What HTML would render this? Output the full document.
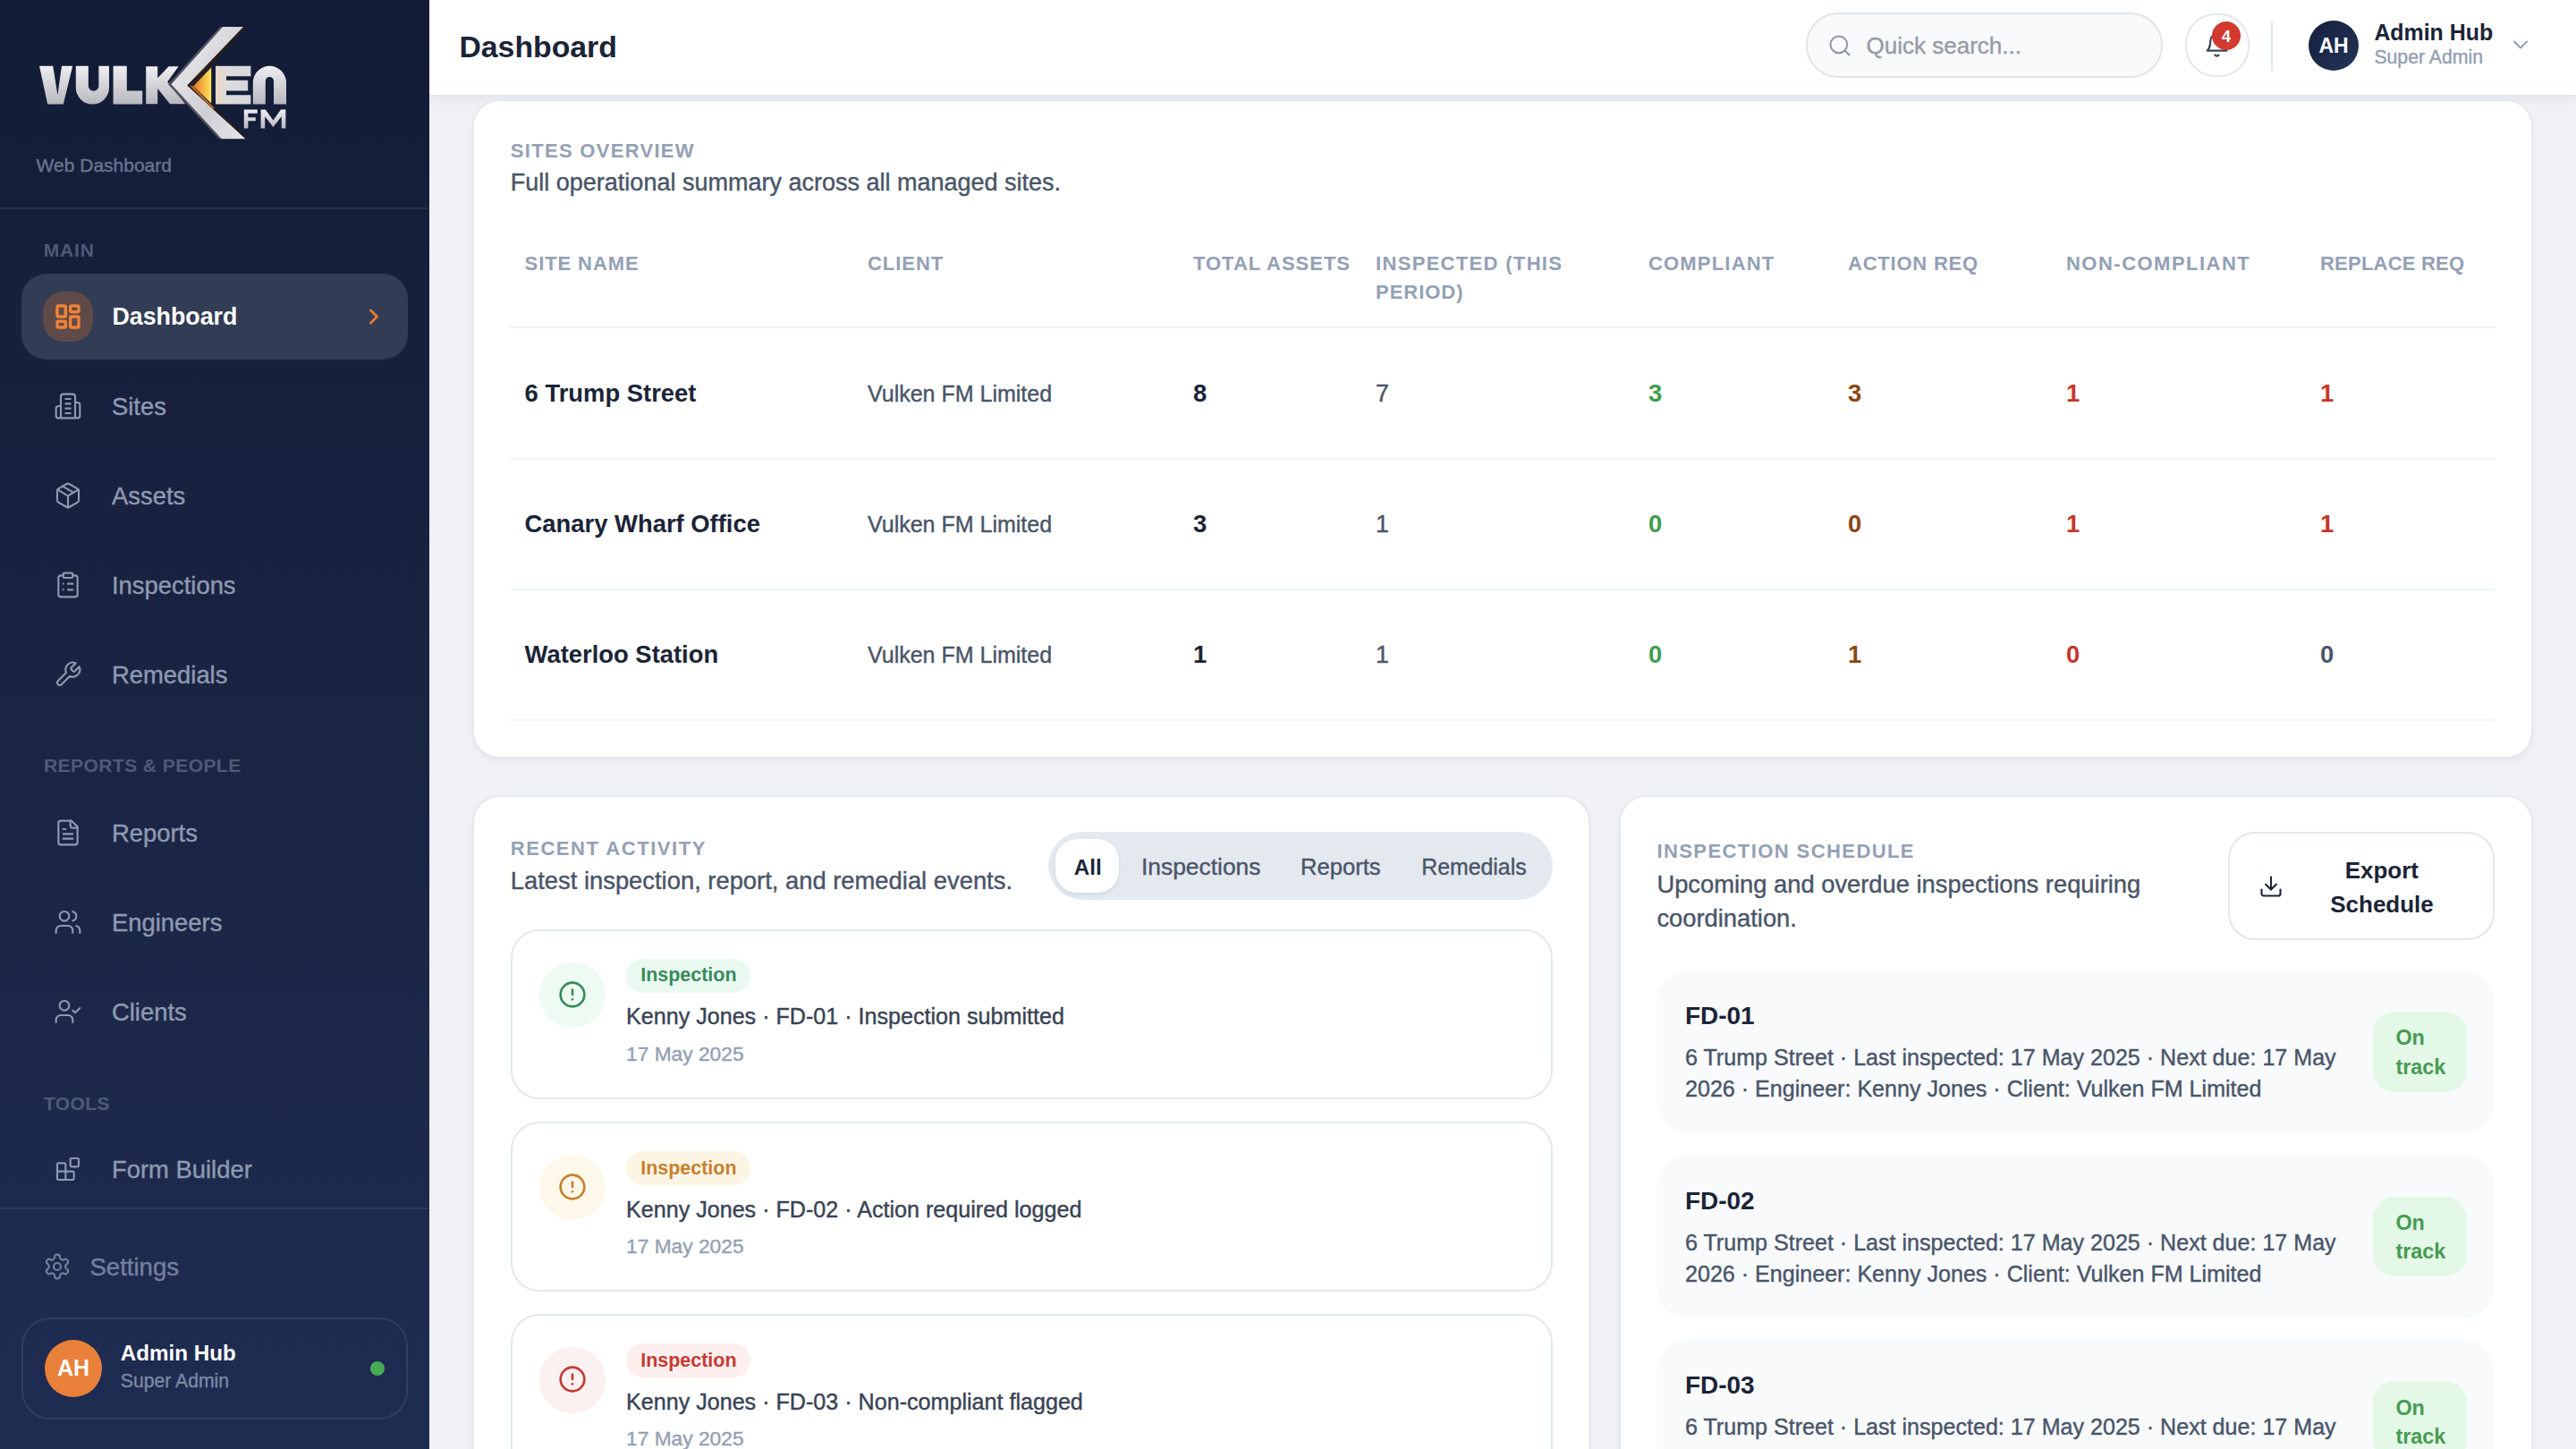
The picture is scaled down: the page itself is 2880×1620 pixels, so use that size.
<!DOCTYPE html>
<html><head><meta charset="utf-8"><title>Dashboard</title>
<style>
html{zoom:2}
@media (max-width:2000px){html{zoom:1}}
*{box-sizing:content-box}
body{margin:0;width:1440px;height:810px;overflow:hidden;position:relative;background:#eff1f5;font-family:"Liberation Sans",sans-serif;}
.t{position:absolute;white-space:nowrap}
.b{position:absolute}
.i{position:absolute;overflow:visible}
.sb{position:absolute;left:0;top:0;width:240px;height:810px;background:linear-gradient(180deg,#131c36 0%,#1a2443 50%,#1f2c52 100%);overflow:hidden}
.hd{position:absolute;left:240px;top:0;width:1200px;height:53px;background:#fff;box-shadow:0 1px 0 #e3e7ee,0 2px 6px rgba(15,23,42,0.06);z-index:0}
</style></head><body>
<div class="sb">
<svg class="i" style="left:0;top:0" width="240" height="100" viewBox="0 0 240 100">
<defs>
<linearGradient id="sv" x1="0" y1="0" x2="0" y2="1"><stop offset="0" stop-color="#efeff2"/><stop offset="0.55" stop-color="#d0d0d5"/><stop offset="1" stop-color="#b8b8bf"/></linearGradient>
<linearGradient id="sv2" x1="0" y1="0" x2="1" y2="1"><stop offset="0" stop-color="#f3f3f5"/><stop offset="0.6" stop-color="#cfcfd4"/><stop offset="1" stop-color="#e4e4e8"/></linearGradient>
<linearGradient id="gd" x1="0" y1="0" x2="1" y2="0"><stop offset="0" stop-color="#e9762a"/><stop offset="1" stop-color="#fde65a"/></linearGradient>
<linearGradient id="eg" x1="0" y1="0" x2="1" y2="0"><stop offset="0" stop-color="#e8d7c2"/><stop offset="0.35" stop-color="#dcdcdf"/><stop offset="1" stop-color="#d6d6db"/></linearGradient>
</defs>
<g fill="url(#sv)">
<path d="M22 36.9H29.6L32.2 53.1L34.5 36.9H40.6L35.4 58.3H26.6Z"/>
<path d="M42.4 36.9H49.4V48A2.9 2.9 0 0 0 55.2 48V36.9H61V49A9.3 9.3 0 0 1 42.4 49Z"/>
<path d="M63.3 36.9H70.9V50.8H79.6V58.3H63.3Z"/>
<path d="M81.6 37.1H88.1V43.6L94.3 37.1H99.8L93.6 45.7L103.6 58.1H95L88.1 49.5V58.1H81.6Z"/>
<path d="M141.4 58.3V46.2A9.3 9.3 0 0 1 160 46.2V58.3H153V45.3A2.3 2.3 0 0 0 148.4 45.3V58.3Z"/>
<path d="M136.4 61.3H143.9V63.4H138.7V65.6H142.9V67.6H138.7V71.7H136.4Z"/>
<path d="M145.8 71.7V61.3H148.4L152.7 67.2L157 61.3H159.7V71.7H157.4V65.1L152.7 71L148.1 65.1V71.7Z"/>
</g>
<path d="M120.5 36.9H140.2V42.6H126.5V44.9H138.6V50.8H126.5V53.1H140.2V58.3H120.5Z" fill="url(#eg)"/>
<path d="M94 47.1L123 15H124.5L95.7 47.1L123.9 77.6H122.4Z" fill="#50545f"/>
<path d="M95.7 47.1L124.5 15H136.1L104.7 47.8L137.3 77.6H123.9Z" fill="url(#sv2)"/>
<path d="M104.7 47.8L136.1 15L137.4 15.4L108 48.1L137.6 77.1L137.3 77.6Z" fill="#2a1f1d"/>
<path d="M106 47.9L108 48.1L120 60.5L118.5 60.5Z" fill="#d9792e" opacity="0.8"/>
<path d="M108.1 48.1L118.1 37.8V57.8Z" fill="url(#gd)"/>
</svg>
<div class="t" style="left:20.30px;top:86.91px;font-size:10.5px;line-height:10.5px;color:#68758f;-webkit-text-stroke-width:0.2px;">Web Dashboard</div>
<div class="b" style="left:0.00px;top:116.00px;width:240.00px;height:1.00px;background:rgba(148,163,184,0.14)"></div>
<div class="t" style="left:24.35px;top:134.61px;font-size:10.5px;line-height:10.5px;color:#4f5b77;font-weight:700;letter-spacing:0.42px;">MAIN</div>
<div class="b" style="left:12.00px;top:153.00px;width:216.00px;height:48.00px;background:#323c55;border-radius:14px"></div>
<div class="b" style="left:24.00px;top:163.00px;width:28.00px;height:28.00px;background:#5f4a48;border-radius:11.5px"></div>
<svg class="i" style="left:30.00px;top:169.00px;" width="16" height="16" viewBox="0 0 24 24" fill="none" stroke="#ee8236" stroke-width="2.6" stroke-linecap="round" stroke-linejoin="round"><rect width="7" height="9" x="3" y="3" rx="1"/><rect width="7" height="5" x="14" y="3" rx="1"/><rect width="7" height="9" x="14" y="12" rx="1"/><rect width="7" height="5" x="3" y="16" rx="1"/></svg>
<div class="t" style="left:62.70px;top:170.55px;font-size:13.4px;line-height:13.4px;color:#ffffff;font-weight:700;">Dashboard</div>
<svg class="i" style="left:202.00px;top:170.00px;" width="14" height="14" viewBox="0 0 24 24" fill="none" stroke="#e27b35" stroke-width="2.5" stroke-linecap="round" stroke-linejoin="round"><path d="m9 18 6-6-6-6"/></svg>
<svg class="i" style="left:30.00px;top:218.90px;" width="16" height="16" viewBox="0 0 24 24" fill="none" stroke="#8d99b0" stroke-width="1.6" stroke-linecap="round" stroke-linejoin="round"><path d="M6 22V4a2 2 0 0 1 2-2h8a2 2 0 0 1 2 2v18Z"/><path d="M6 12H4a2 2 0 0 0-2 2v6a2 2 0 0 0 2 2h2"/><path d="M18 9h2a2 2 0 0 1 2 2v9a2 2 0 0 1-2 2h-2"/><path d="M10 6h4"/><path d="M10 10h4"/><path d="M10 14h4"/><path d="M10 18h4"/></svg>
<div class="t" style="left:62.50px;top:220.50px;font-size:13.7px;line-height:13.7px;color:#8e9ab1;-webkit-text-stroke-width:0.2px;">Sites</div>
<svg class="i" style="left:30.00px;top:268.90px;" width="16" height="16" viewBox="0 0 24 24" fill="none" stroke="#8d99b0" stroke-width="1.6" stroke-linecap="round" stroke-linejoin="round"><path d="M11 21.73a2 2 0 0 0 2 0l7-4A2 2 0 0 0 21 16V8a2 2 0 0 0-1-1.73l-7-4a2 2 0 0 0-2 0l-7 4A2 2 0 0 0 3 8v8a2 2 0 0 0 1 1.73z"/><path d="M12 22V12"/><path d="m3.3 7 7.703 4.734a2 2 0 0 0 1.994 0L20.7 7"/><path d="m7.5 4.27 9 5.15"/></svg>
<div class="t" style="left:62.50px;top:270.50px;font-size:13.7px;line-height:13.7px;color:#8e9ab1;-webkit-text-stroke-width:0.2px;">Assets</div>
<svg class="i" style="left:30.00px;top:318.90px;" width="16" height="16" viewBox="0 0 24 24" fill="none" stroke="#8d99b0" stroke-width="1.6" stroke-linecap="round" stroke-linejoin="round"><rect width="8" height="4" x="8" y="2" rx="1" ry="1"/><path d="M16 4h2a2 2 0 0 1 2 2v14a2 2 0 0 1-2 2H6a2 2 0 0 1-2-2V6a2 2 0 0 1 2-2h2"/><path d="M12 11h4"/><path d="M12 16h4"/><path d="M8 11h.01"/><path d="M8 16h.01"/></svg>
<div class="t" style="left:62.50px;top:320.50px;font-size:13.7px;line-height:13.7px;color:#8e9ab1;-webkit-text-stroke-width:0.2px;">Inspections</div>
<svg class="i" style="left:30.00px;top:368.90px;" width="16" height="16" viewBox="0 0 24 24" fill="none" stroke="#8d99b0" stroke-width="1.6" stroke-linecap="round" stroke-linejoin="round"><path d="M14.7 6.3a1 1 0 0 0 0 1.4l1.6 1.6a1 1 0 0 0 1.4 0l3.77-3.77a6 6 0 0 1-7.940 7.940l-6.91 6.91a2.12 2.12 0 0 1-3-3l6.91-6.910a6 6 0 0 1 7.940-7.940l-3.760 3.760z"/></svg>
<div class="t" style="left:62.50px;top:370.50px;font-size:13.7px;line-height:13.7px;color:#8e9ab1;-webkit-text-stroke-width:0.2px;">Remedials</div>
<svg class="i" style="left:30.00px;top:457.40px;" width="16" height="16" viewBox="0 0 24 24" fill="none" stroke="#8d99b0" stroke-width="1.6" stroke-linecap="round" stroke-linejoin="round"><path d="M15 2H6a2 2 0 0 0-2 2v16a2 2 0 0 0 2 2h12a2 2 0 0 0 2-2V7Z"/><path d="M14 2v4a2 2 0 0 0 2 2h4"/><path d="M10 9H8"/><path d="M16 13H8"/><path d="M16 17H8"/></svg>
<div class="t" style="left:62.50px;top:459.00px;font-size:13.7px;line-height:13.7px;color:#8e9ab1;-webkit-text-stroke-width:0.2px;">Reports</div>
<svg class="i" style="left:30.00px;top:507.40px;" width="16" height="16" viewBox="0 0 24 24" fill="none" stroke="#8d99b0" stroke-width="1.6" stroke-linecap="round" stroke-linejoin="round"><path d="M16 21v-2a4 4 0 0 0-4-4H6a4 4 0 0 0-4 4v2"/><circle cx="9" cy="7" r="4"/><path d="M22 21v-2a4 4 0 0 0-3-3.87"/><path d="M16 3.13a4 4 0 0 1 0 7.75"/></svg>
<div class="t" style="left:62.50px;top:509.00px;font-size:13.7px;line-height:13.7px;color:#8e9ab1;-webkit-text-stroke-width:0.2px;">Engineers</div>
<svg class="i" style="left:30.00px;top:557.40px;" width="16" height="16" viewBox="0 0 24 24" fill="none" stroke="#8d99b0" stroke-width="1.6" stroke-linecap="round" stroke-linejoin="round"><path d="M16 21v-2a4 4 0 0 0-4-4H6a4 4 0 0 0-4 4v2"/><circle cx="9" cy="7" r="4"/><polyline points="16 11 18 13 22 9"/></svg>
<div class="t" style="left:62.50px;top:559.00px;font-size:13.7px;line-height:13.7px;color:#8e9ab1;-webkit-text-stroke-width:0.2px;">Clients</div>
<svg class="i" style="left:30.00px;top:645.40px;" width="16" height="16" viewBox="0 0 24 24" fill="none" stroke="#8d99b0" stroke-width="1.6" stroke-linecap="round" stroke-linejoin="round"><rect width="7" height="7" x="14" y="3" rx="1"/><path d="M10 21V8a1 1 0 0 0-1-1H4a1 1 0 0 0-1 1v12a1 1 0 0 0 1 1h12a1 1 0 0 0 1-1v-5a1 1 0 0 0-1-1H3"/></svg>
<div class="t" style="left:62.50px;top:647.00px;font-size:13.7px;line-height:13.7px;color:#8e9ab1;-webkit-text-stroke-width:0.2px;">Form Builder</div>
<div class="t" style="left:24.50px;top:422.71px;font-size:10.5px;line-height:10.5px;color:#4f5b77;font-weight:700;letter-spacing:0.22px;">REPORTS &amp; PEOPLE</div>
<div class="t" style="left:24.50px;top:611.61px;font-size:10.5px;line-height:10.5px;color:#4f5b77;font-weight:700;letter-spacing:0.2px;">TOOLS</div>
<div class="b" style="left:0.00px;top:675.00px;width:240.00px;height:1.00px;background:rgba(148,163,184,0.14)"></div>
<svg class="i" style="left:23.80px;top:700.00px;" width="16" height="16" viewBox="0 0 24 24" fill="none" stroke="#74819d" stroke-width="1.6" stroke-linecap="round" stroke-linejoin="round"><path d="M12.22 2h-.44a2 2 0 0 0-2 2v.18a2 2 0 0 1-1 1.73l-.43.25a2 2 0 0 1-2 0l-.15-.08a2 2 0 0 0-2.73.73l-.22.38a2 2 0 0 0 .73 2.73l.15.1a2 2 0 0 1 1 1.72v.51a2 2 0 0 1-1 1.74l-.15.09a2 2 0 0 0-.73 2.730l.22.38a2 2 0 0 0 2.73.73l.15-.08a2 2 0 0 1 2 0l.43.25a2 2 0 0 1 1 1.73V20a2 2 0 0 0 2 2h.44a2 2 0 0 0 2-2v-.18a2 2 0 0 1 1-1.73l.43-.25a2 2 0 0 1 2 0l.15.08a2 2 0 0 0 2.73-.73l.22-.39a2 2 0 0 0-.73-2.73l-.15-.08a2 2 0 0 1-1-1.74v-.5a2 2 0 0 1 1-1.74l.15-.09a2 2 0 0 0 .73-2.73l-.22-.38a2 2 0 0 0-2.73-.73l-.15.08a2 2 0 0 1-2 0l-.43-.25a2 2 0 0 1-1-1.73V4a2 2 0 0 0-2-2z"/><circle cx="12" cy="12" r="3"/></svg>
<div class="t" style="left:50.20px;top:701.32px;font-size:13.8px;line-height:13.8px;color:#74819d;-webkit-text-stroke-width:0.2px;">Settings</div>
<div class="b" style="left:12.00px;top:736.50px;width:216.00px;height:57.00px;border:1px solid rgba(148,163,184,0.16);border-radius:16px;box-sizing:border-box"></div>
<div class="b" style="left:25.00px;top:749.00px;width:32.00px;height:32.00px;background:#e8803a;border-radius:50%"></div>
<div class="t" style="left:21.00px;top:758.72px;font-size:12.5px;line-height:12.5px;color:#ffffff;font-weight:700;width:40px;text-align:center;">AH</div>
<div class="t" style="left:67.40px;top:750.56px;font-size:12.1px;line-height:12.1px;color:#ffffff;font-weight:700;">Admin Hub</div>
<div class="t" style="left:67.40px;top:766.33px;font-size:10.6px;line-height:10.6px;color:#7b88a3;-webkit-text-stroke-width:0.2px;">Super Admin</div>
<div class="b" style="left:207.00px;top:761.00px;width:8.00px;height:8.00px;background:#47ab55;border-radius:50%"></div>
</div>
<div class="hd"></div>
<div class="t" style="left:256.70px;top:17.79px;font-size:16.9px;line-height:16.9px;color:#1b2437;font-weight:700;">Dashboard</div>
<div class="b" style="left:1009.60px;top:7.20px;width:199.40px;height:36.20px;background:#f8fafc;border:1px solid #e1e4ea;border-radius:18.1px;box-sizing:border-box"></div>
<svg class="i" style="left:1021.60px;top:18.30px;" width="14" height="14" viewBox="0 0 24 24" fill="none" stroke="#9095a5" stroke-width="1.7" stroke-linecap="round" stroke-linejoin="round"><circle cx="11" cy="11" r="8"/><path d="m21 21-4.3-4.3"/></svg>
<div class="t" style="left:1043.30px;top:18.99px;font-size:13px;line-height:13px;color:#979ca7;-webkit-text-stroke-width:0.2px;">Quick search...</div>
<div class="b" style="left:1221.50px;top:7.40px;width:36.00px;height:35.80px;background:#fff;border:1px solid #e3e6ec;border-radius:17px;box-sizing:border-box"></div>
<svg class="i" style="left:1231.80px;top:18.20px;" width="14.5" height="14.5" viewBox="0 0 24 24" fill="none" stroke="#3b4658" stroke-width="1.8" stroke-linecap="round" stroke-linejoin="round"><path d="M6 8a6 6 0 0 1 12 0c0 7 3 9 3 9H3s3-2 3-9"/><path d="M10.3 21a1.94 1.94 0 0 0 3.4 0"/></svg>
<div class="b" style="left:1236.50px;top:12.20px;width:16.00px;height:16.00px;background:#d33a2f;border-radius:50%"></div>
<div class="t" style="left:1237.00px;top:15.78px;font-size:9px;line-height:9px;color:#ffffff;font-weight:700;width:15px;text-align:center;">4</div>
<div class="b" style="left:1269.50px;top:12.00px;width:1.00px;height:27.30px;background:#e2e7ee"></div>
<div class="b" style="left:1290.50px;top:11.40px;width:28.00px;height:28.00px;background:linear-gradient(135deg,#151f3b,#24345a);border-radius:50%"></div>
<div class="t" style="left:1289.50px;top:19.86px;font-size:11.5px;line-height:11.5px;color:#ffffff;font-weight:700;width:30px;text-align:center;">AH</div>
<div class="t" style="left:1327.20px;top:11.86px;font-size:12.45px;line-height:12.45px;color:#1b2437;font-weight:700;">Admin Hub</div>
<div class="t" style="left:1327.20px;top:26.81px;font-size:10.62px;line-height:10.62px;color:#94a0b2;-webkit-text-stroke-width:0.2px;">Super Admin</div>
<svg class="i" style="left:1402.00px;top:18.00px;" width="14" height="14" viewBox="0 0 24 24" fill="none" stroke="#94a0b2" stroke-width="1.8" stroke-linecap="round" stroke-linejoin="round"><path d="m6 9 6 6 6-6"/></svg>
<div class="b" style="left:264.80px;top:56.60px;width:1150.00px;height:366.40px;background:#fff;border-radius:14px;box-shadow:0 0 0 1px #e4e8ef,0 2px 4px rgba(15,23,42,0.06)"></div>
<div class="t" style="left:285.40px;top:78.99px;font-size:11px;line-height:11px;color:#94a0b4;font-weight:700;letter-spacing:0.65px;">SITES OVERVIEW</div>
<div class="t" style="left:285.40px;top:95.47px;font-size:13.5px;line-height:13.5px;color:#4a5568;-webkit-text-stroke-width:0.2px;">Full operational summary across all managed sites.</div>
<div class="t" style="left:293.30px;top:141.84px;font-size:11px;line-height:11px;color:#94a0b4;font-weight:700;letter-spacing:0.45px;">SITE NAME</div>
<div class="t" style="left:485.00px;top:141.84px;font-size:11px;line-height:11px;color:#94a0b4;font-weight:700;letter-spacing:0.48px;">CLIENT</div>
<div class="t" style="left:667.00px;top:141.84px;font-size:11px;line-height:11px;color:#94a0b4;font-weight:700;letter-spacing:0.49px;">TOTAL ASSETS</div>
<div class="t" style="left:769.00px;top:141.84px;font-size:11px;line-height:11px;color:#94a0b4;font-weight:700;letter-spacing:0.66px;">INSPECTED (THIS</div>
<div class="t" style="left:921.50px;top:141.84px;font-size:11px;line-height:11px;color:#94a0b4;font-weight:700;letter-spacing:0.59px;">COMPLIANT</div>
<div class="t" style="left:1033.00px;top:141.84px;font-size:11px;line-height:11px;color:#94a0b4;font-weight:700;letter-spacing:0.39px;">ACTION REQ</div>
<div class="t" style="left:1155.00px;top:141.84px;font-size:11px;line-height:11px;color:#94a0b4;font-weight:700;letter-spacing:0.74px;">NON-COMPLIANT</div>
<div class="t" style="left:1297.00px;top:141.84px;font-size:11px;line-height:11px;color:#94a0b4;font-weight:700;letter-spacing:0.11px;">REPLACE REQ</div>
<div class="t" style="left:769.00px;top:158.09px;font-size:11px;line-height:11px;color:#94a0b4;font-weight:700;letter-spacing:0.49px;">PERIOD)</div>
<div class="b" style="left:285.00px;top:182.50px;width:1109.60px;height:1.00px;background:#eef1f5"></div>
<div class="t" style="left:293.30px;top:213.20px;font-size:13.7px;line-height:13.7px;color:#1b2437;font-weight:700;">6 Trump Street</div>
<div class="t" style="left:485.00px;top:214.22px;font-size:12.5px;line-height:12.5px;color:#4a5568;-webkit-text-stroke-width:0.2px;">Vulken FM Limited</div>
<div class="t" style="left:667.00px;top:213.20px;font-size:13.7px;line-height:13.7px;color:#1b2437;font-weight:700;">8</div>
<div class="t" style="left:769.00px;top:213.45px;font-size:13.4px;line-height:13.4px;color:#4a5568;-webkit-text-stroke-width:0.2px;">7</div>
<div class="t" style="left:921.50px;top:213.20px;font-size:13.7px;line-height:13.7px;color:#3f9d4e;font-weight:700;">3</div>
<div class="t" style="left:1033.00px;top:213.20px;font-size:13.7px;line-height:13.7px;color:#8b4514;font-weight:700;">3</div>
<div class="t" style="left:1155.00px;top:213.20px;font-size:13.7px;line-height:13.7px;color:#c8352c;font-weight:700;">1</div>
<div class="t" style="left:1297.00px;top:213.20px;font-size:13.7px;line-height:13.7px;color:#c8352c;font-weight:700;">1</div>
<div class="b" style="left:285.00px;top:255.80px;width:1109.60px;height:1.00px;background:#f3f5f8"></div>
<div class="t" style="left:293.30px;top:286.20px;font-size:13.7px;line-height:13.7px;color:#1b2437;font-weight:700;">Canary Wharf Office</div>
<div class="t" style="left:485.00px;top:287.22px;font-size:12.5px;line-height:12.5px;color:#4a5568;-webkit-text-stroke-width:0.2px;">Vulken FM Limited</div>
<div class="t" style="left:667.00px;top:286.20px;font-size:13.7px;line-height:13.7px;color:#1b2437;font-weight:700;">3</div>
<div class="t" style="left:769.00px;top:286.45px;font-size:13.4px;line-height:13.4px;color:#4a5568;-webkit-text-stroke-width:0.2px;">1</div>
<div class="t" style="left:921.50px;top:286.20px;font-size:13.7px;line-height:13.7px;color:#3f9d4e;font-weight:700;">0</div>
<div class="t" style="left:1033.00px;top:286.20px;font-size:13.7px;line-height:13.7px;color:#8b4514;font-weight:700;">0</div>
<div class="t" style="left:1155.00px;top:286.20px;font-size:13.7px;line-height:13.7px;color:#c8352c;font-weight:700;">1</div>
<div class="t" style="left:1297.00px;top:286.20px;font-size:13.7px;line-height:13.7px;color:#c8352c;font-weight:700;">1</div>
<div class="b" style="left:285.00px;top:328.80px;width:1109.60px;height:1.00px;background:#f3f5f8"></div>
<div class="t" style="left:293.30px;top:359.20px;font-size:13.7px;line-height:13.7px;color:#1b2437;font-weight:700;">Waterloo Station</div>
<div class="t" style="left:485.00px;top:360.22px;font-size:12.5px;line-height:12.5px;color:#4a5568;-webkit-text-stroke-width:0.2px;">Vulken FM Limited</div>
<div class="t" style="left:667.00px;top:359.20px;font-size:13.7px;line-height:13.7px;color:#1b2437;font-weight:700;">1</div>
<div class="t" style="left:769.00px;top:359.45px;font-size:13.4px;line-height:13.4px;color:#4a5568;-webkit-text-stroke-width:0.2px;">1</div>
<div class="t" style="left:921.50px;top:359.20px;font-size:13.7px;line-height:13.7px;color:#3f9d4e;font-weight:700;">0</div>
<div class="t" style="left:1033.00px;top:359.20px;font-size:13.7px;line-height:13.7px;color:#8b4514;font-weight:700;">1</div>
<div class="t" style="left:1155.00px;top:359.20px;font-size:13.7px;line-height:13.7px;color:#c8352c;font-weight:700;">0</div>
<div class="t" style="left:1297.00px;top:359.20px;font-size:13.7px;line-height:13.7px;color:#4a5568;font-weight:700;">0</div>
<div class="b" style="left:285.00px;top:401.80px;width:1109.60px;height:1.00px;background:#f3f5f8"></div>
<div class="b" style="left:265.00px;top:445.60px;width:623.00px;height:454.40px;background:#fff;border-radius:14px;box-shadow:0 0 0 1px #e4e8ef,0 2px 4px rgba(15,23,42,0.06)"></div>
<div class="t" style="left:285.40px;top:469.19px;font-size:11px;line-height:11px;color:#94a0b4;font-weight:700;letter-spacing:0.77px;">RECENT ACTIVITY</div>
<div class="t" style="left:285.40px;top:485.62px;font-size:13.68px;line-height:13.68px;color:#4a5568;-webkit-text-stroke-width:0.2px;">Latest inspection, report, and remedial events.</div>
<div class="b" style="left:586.00px;top:464.80px;width:282.00px;height:38.00px;background:#e4e9f0;border-radius:19px"></div>
<div class="b" style="left:590.00px;top:469.00px;width:35.70px;height:30.00px;background:#fff;border-radius:12px;box-shadow:0 1px 2px rgba(15,23,42,0.08)"></div>
<div class="t" style="left:600.40px;top:479.00px;font-size:12.05px;line-height:12.05px;color:#1b2437;font-weight:700;">All</div>
<div class="t" style="left:638.00px;top:478.03px;font-size:13.19px;line-height:13.19px;color:#4a5568;-webkit-text-stroke-width:0.2px;-webkit-text-stroke:0.2px #4a5568;">Inspections</div>
<div class="t" style="left:727.00px;top:478.37px;font-size:12.79px;line-height:12.79px;color:#4a5568;-webkit-text-stroke-width:0.2px;-webkit-text-stroke:0.2px #4a5568;">Reports</div>
<div class="t" style="left:794.60px;top:478.68px;font-size:12.43px;line-height:12.43px;color:#4a5568;-webkit-text-stroke-width:0.2px;-webkit-text-stroke:0.2px #4a5568;">Remedials</div>
<div class="b" style="left:285.40px;top:519.50px;width:582.60px;height:95.00px;background:#fff;border:1px solid #e4e8ee;border-radius:16px;box-sizing:border-box"></div>
<div class="b" style="left:301.70px;top:538.00px;width:36.60px;height:36.60px;background:#eefbf3;border-radius:50%"></div>
<svg class="i" style="left:311.90px;top:548.00px;" width="16" height="16" viewBox="0 0 24 24" fill="none" stroke="#368a5c" stroke-width="2" stroke-linecap="round" stroke-linejoin="round"><circle cx="12" cy="12" r="10"/><line x1="12" x2="12" y1="8" y2="12"/><line x1="12" x2="12.01" y1="16" y2="16"/></svg>
<div class="b" style="left:350.00px;top:536.00px;width:69.70px;height:19.00px;background:#ebfaf0;border-radius:9.5px"></div>
<div class="t" style="left:358.10px;top:540.21px;font-size:10.74px;line-height:10.74px;color:#388b5d;font-weight:700;">Inspection</div>
<div class="t" style="left:350.00px;top:562.17px;font-size:12.56px;line-height:12.56px;color:#394354;-webkit-text-stroke-width:0.2px;">Kenny Jones · FD-01 · Inspection submitted</div>
<div class="t" style="left:350.00px;top:583.46px;font-size:11.38px;line-height:11.38px;color:#94a0b4;-webkit-text-stroke-width:0.2px;">17 May 2025</div>
<div class="b" style="left:285.40px;top:627.10px;width:582.60px;height:95.00px;background:#fff;border:1px solid #e4e8ee;border-radius:16px;box-sizing:border-box"></div>
<div class="b" style="left:301.70px;top:645.60px;width:36.60px;height:36.60px;background:#fdf8ea;border-radius:50%"></div>
<svg class="i" style="left:311.90px;top:655.60px;" width="16" height="16" viewBox="0 0 24 24" fill="none" stroke="#c97f2e" stroke-width="2" stroke-linecap="round" stroke-linejoin="round"><circle cx="12" cy="12" r="10"/><line x1="12" x2="12" y1="8" y2="12"/><line x1="12" x2="12.01" y1="16" y2="16"/></svg>
<div class="b" style="left:350.00px;top:643.60px;width:69.70px;height:19.00px;background:#fcf5e4;border-radius:9.5px"></div>
<div class="t" style="left:358.10px;top:647.81px;font-size:10.74px;line-height:10.74px;color:#c97f2c;font-weight:700;">Inspection</div>
<div class="t" style="left:350.00px;top:669.77px;font-size:12.56px;line-height:12.56px;color:#394354;-webkit-text-stroke-width:0.2px;">Kenny Jones · FD-02 · Action required logged</div>
<div class="t" style="left:350.00px;top:691.06px;font-size:11.38px;line-height:11.38px;color:#94a0b4;-webkit-text-stroke-width:0.2px;">17 May 2025</div>
<div class="b" style="left:285.40px;top:734.70px;width:582.60px;height:95.00px;background:#fff;border:1px solid #e4e8ee;border-radius:16px;box-sizing:border-box"></div>
<div class="b" style="left:301.70px;top:753.20px;width:36.60px;height:36.60px;background:#fcf1f1;border-radius:50%"></div>
<svg class="i" style="left:311.90px;top:763.20px;" width="16" height="16" viewBox="0 0 24 24" fill="none" stroke="#c53a32" stroke-width="2" stroke-linecap="round" stroke-linejoin="round"><circle cx="12" cy="12" r="10"/><line x1="12" x2="12" y1="8" y2="12"/><line x1="12" x2="12.01" y1="16" y2="16"/></svg>
<div class="b" style="left:350.00px;top:751.20px;width:69.70px;height:19.00px;background:#fcefee;border-radius:9.5px"></div>
<div class="t" style="left:358.10px;top:755.41px;font-size:10.74px;line-height:10.74px;color:#c53a32;font-weight:700;">Inspection</div>
<div class="t" style="left:350.00px;top:777.37px;font-size:12.56px;line-height:12.56px;color:#394354;-webkit-text-stroke-width:0.2px;">Kenny Jones · FD-03 · Non-compliant flagged</div>
<div class="t" style="left:350.00px;top:798.66px;font-size:11.38px;line-height:11.38px;color:#94a0b4;-webkit-text-stroke-width:0.2px;">17 May 2025</div>
<div class="b" style="left:906.00px;top:445.60px;width:509.00px;height:454.40px;background:#fff;border-radius:14px;box-shadow:0 0 0 1px #e4e8ef,0 2px 4px rgba(15,23,42,0.06)"></div>
<div class="t" style="left:926.20px;top:470.49px;font-size:11px;line-height:11px;color:#94a0b4;font-weight:700;letter-spacing:0.71px;">INSPECTION SCHEDULE</div>
<div class="t" style="left:926.20px;top:484.91px;font-size:13.67px;line-height:19.3px;color:#4a5568;-webkit-text-stroke-width:0.2px;">Upcoming and overdue inspections requiring<br>coordination.</div>
<div class="b" style="left:1245.50px;top:465.20px;width:149.00px;height:60.40px;background:#fff;border:1px solid #e3e6ed;border-radius:15px;box-sizing:border-box"></div>
<svg class="i" style="left:1262.50px;top:488.50px;" width="14" height="14" viewBox="0 0 24 24" fill="none" stroke="#1b2437" stroke-width="1.8" stroke-linecap="round" stroke-linejoin="round"><path d="M21 15v4a2 2 0 0 1-2 2H5a2 2 0 0 1-2-2v-4"/><polyline points="7 10 12 15 17 10"/><line x1="12" x2="12" y1="15" y2="3"/></svg>
<div class="t" style="left:1291.40px;top:479.99px;font-size:13px;line-height:13px;color:#1b2437;font-weight:700;width:80px;text-align:center;">Export</div>
<div class="t" style="left:1291.50px;top:498.79px;font-size:13px;line-height:13px;color:#1b2437;font-weight:700;width:80px;text-align:center;">Schedule</div>
<div class="b" style="left:926.20px;top:542.30px;width:468.20px;height:91.30px;background:#f8fafc;border-radius:18px"></div>
<div class="t" style="left:942.00px;top:560.87px;font-size:13.97px;line-height:13.97px;color:#1b2437;font-weight:700;">FD-01</div>
<div class="t" style="left:942.00px;top:582.35px;font-size:12.54px;line-height:17.8px;color:#4a5568;-webkit-text-stroke-width:0.2px;">6 Trump Street · Last inspected: 17 May 2025 · Next due: 17 May<br>2026 · Engineer: Kenny Jones · Client: Vulken FM Limited</div>
<div class="b" style="left:1326.60px;top:565.40px;width:52.40px;height:44.90px;background:#e4f8e7;border-radius:12px"></div>
<div class="t" style="left:1339.20px;top:572.19px;font-size:11.7px;line-height:16.1px;color:#469b52;font-weight:700;">On<br>track</div>
<div class="b" style="left:926.20px;top:645.70px;width:468.20px;height:91.30px;background:#f8fafc;border-radius:18px"></div>
<div class="t" style="left:942.00px;top:664.27px;font-size:13.97px;line-height:13.97px;color:#1b2437;font-weight:700;">FD-02</div>
<div class="t" style="left:942.00px;top:685.75px;font-size:12.54px;line-height:17.8px;color:#4a5568;-webkit-text-stroke-width:0.2px;">6 Trump Street · Last inspected: 17 May 2025 · Next due: 17 May<br>2026 · Engineer: Kenny Jones · Client: Vulken FM Limited</div>
<div class="b" style="left:1326.60px;top:668.80px;width:52.40px;height:44.90px;background:#e4f8e7;border-radius:12px"></div>
<div class="t" style="left:1339.20px;top:675.59px;font-size:11.7px;line-height:16.1px;color:#469b52;font-weight:700;">On<br>track</div>
<div class="b" style="left:926.20px;top:749.10px;width:468.20px;height:91.30px;background:#f8fafc;border-radius:18px"></div>
<div class="t" style="left:942.00px;top:767.67px;font-size:13.97px;line-height:13.97px;color:#1b2437;font-weight:700;">FD-03</div>
<div class="t" style="left:942.00px;top:789.15px;font-size:12.54px;line-height:17.8px;color:#4a5568;-webkit-text-stroke-width:0.2px;">6 Trump Street · Last inspected: 17 May 2025 · Next due: 17 May<br>2026 · Engineer: Kenny Jones · Client: Vulken FM Limited</div>
<div class="b" style="left:1326.60px;top:772.20px;width:52.40px;height:44.90px;background:#e4f8e7;border-radius:12px"></div>
<div class="t" style="left:1339.20px;top:778.99px;font-size:11.7px;line-height:16.1px;color:#469b52;font-weight:700;">On<br>track</div>
</body></html>
